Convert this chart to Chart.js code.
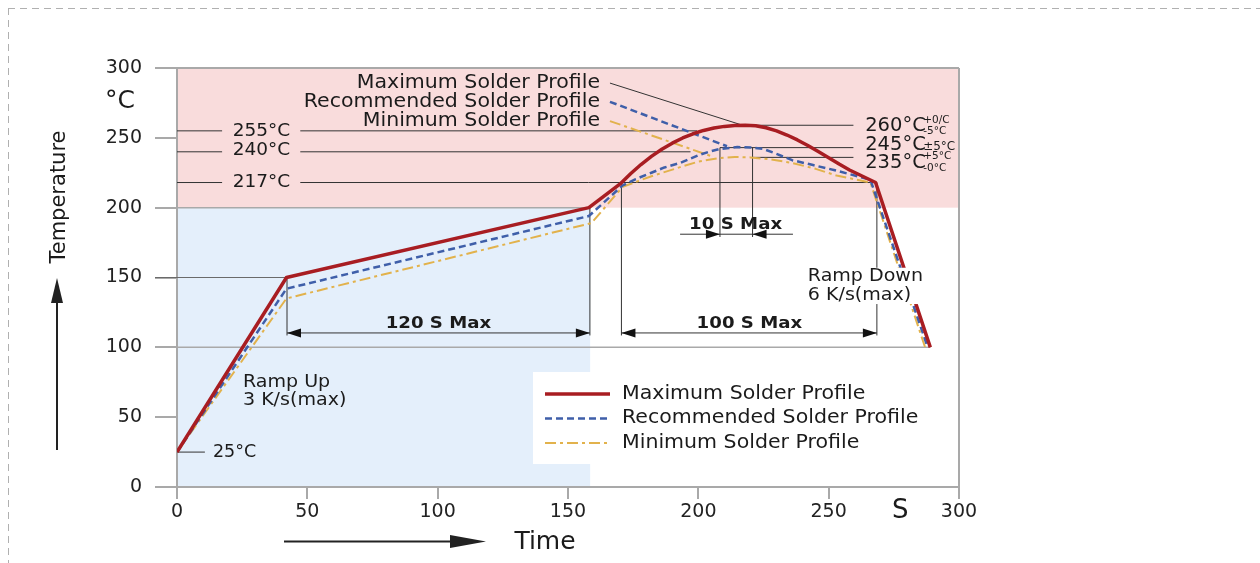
<!DOCTYPE html>
<html>
<head>
<title>Solder Reflow Profile</title>
<script src="https://cdn.jsdelivr.net/npm/chart.js"></script>
<style>
  body { margin: 0; background: #fff; }
  .dash-top { position: absolute; left: 8px; top: 8px; width: 1252px; height: 1px;
    background: repeating-linear-gradient(90deg, #b0b0b0 0 7px, transparent 7px 12px); }
  .dash-left { position: absolute; left: 8px; top: 8px; width: 1px; height: 555px;
    background: repeating-linear-gradient(180deg, #b0b0b0 0 7px, transparent 7px 12px); }
  .wrap { position: absolute; left: 0; top: 0; width: 1260px; height: 563px; }
</style>
</head>
<body>
<div class="dash-top"></div>
<div class="dash-left"></div>
<div class="wrap"><canvas id="reflow" width="1260" height="563"></canvas></div>
<script>
// profile curves (time in s, temperature in °C)
const timeMax = [0, 42, 158, 170, 174, 178, 182, 186, 190, 194, 198, 202, 206, 210, 214, 218,
  222, 226, 230, 234, 238, 242, 246, 250, 254, 258, 263, 268, 289];
const tempMax = [25, 150, 200, 217, 224.3, 230.9, 236.7, 241.8, 246.2, 249.9, 252.9, 255.3, 257, 258.2, 258.8, 259,
  258.6, 257.2, 255, 252, 248.5, 244.5, 240.2, 235.8, 231.2, 227, 222.5, 218, 100];

const timeRec = [0, 42, 158, 171, 176, 182, 187, 193, 200, 204, 208, 215, 221, 225, 230, 236, 244, 252, 266, 288];
const tempRec = [25, 142, 194, 216, 220.5, 225, 228.8, 232, 237.5, 240, 242, 243.4, 243, 242, 238.5, 234, 230.5, 227, 220, 100];

const timeMin = [0, 42, 159, 171, 182, 193, 200, 208, 214, 220, 228, 236, 245, 253, 266, 287];
const tempMin = [25, 135, 189, 215, 222.5, 229, 233, 235.5, 236.3, 236, 234.5, 232, 227.8, 223, 218, 100];

const seriesNames = ['Maximum Solder Profile', 'Recommended Solder Profile', 'Minimum Solder Profile'];
const xTicks = [0, 50, 100, 150, 200, 250, 300];
const yTicks = [0, 50, 100, 150, 200, 250, 300];

const FONT = '"DejaVu Sans", Verdana, sans-serif';
const RED = '#a81d22', BLUE = '#3f5fa9', GOLD = '#e2b24c';
const DASH_REC = [7, 4], DASH_MIN = [11, 4, 3, 4];

function pts(xs, ys) { return xs.map((v, i) => ({ x: v, y: ys[i] })); }

function txt(ctx, s, x, y, size, opts = {}) {
  ctx.save();
  ctx.font = (opts.bold ? 'bold ' : '') + size + 'px ' + FONT;
  ctx.fillStyle = opts.color || '#1b1b1b';
  ctx.textAlign = opts.align || 'left';
  ctx.textBaseline = 'middle';
  if (opts.sx) {
    ctx.translate(x, y);
    ctx.scale(opts.sx, 1);
    ctx.fillText(s, 0, 0);
  } else {
    ctx.fillText(s, x, y);
  }
  ctx.restore();
}

function line(ctx, x1, y1, x2, y2) {
  ctx.beginPath();
  ctx.moveTo(x1, y1);
  ctx.lineTo(x2, y2);
  ctx.stroke();
}

// filled arrow head with its tip at (x, y), dir = +1 right, -1 left
function headH(ctx, x, y, dir, len = 14, w = 4.5) {
  ctx.beginPath();
  ctx.moveTo(x, y);
  ctx.lineTo(x - dir * len, y - w);
  ctx.lineTo(x - dir * len, y + w);
  ctx.closePath();
  ctx.fill();
}

const profilePlugin = {
  id: 'profile',
  beforeDraw(chart) {
    const { ctx, scales: { x, y } } = chart;
    const X = v => x.getPixelForValue(v), Y = v => y.getPixelForValue(v);
    ctx.save();
    ctx.fillStyle = '#f9dcdc';
    ctx.fillRect(X(0), Y(300), X(300) - X(0), Y(200) - Y(300));
    ctx.fillStyle = '#e4effb';
    ctx.fillRect(X(0), Y(200), X(158.5) - X(0), Y(0) - Y(200));
    // legend box
    ctx.fillStyle = '#ffffff';
    ctx.fillRect(533, 372, 420, 92);
    ctx.restore();
  },
  beforeDatasetsDraw(chart) {
    const { ctx, chartArea: a, scales: { x, y } } = chart;
    const X = v => x.getPixelForValue(v), Y = v => y.getPixelForValue(v);
    ctx.save();
    // frame top/right
    ctx.strokeStyle = '#a9a9a9';
    ctx.lineWidth = 2;
    line(ctx, a.left - 22, a.top, a.right, a.top);
    line(ctx, a.right, a.top, a.right, a.bottom);
    // grey zone lines
    ctx.lineWidth = 1.5;
    line(ctx, X(0) - 22, Y(100), X(289), Y(100));
    line(ctx, X(0), Y(200), X(158.5), Y(200));
    ctx.strokeStyle = '#6a6a6a';
    ctx.lineWidth = 1.2;
    line(ctx, X(0) - 22, Y(150), X(42.2), Y(150));

    // temperature marks
    ctx.strokeStyle = '#333';
    ctx.lineWidth = 1;
    const h = (v, x1, x2) => line(ctx, X(x1), Y(v), X(x2), Y(v));
    const vl = (u, y1, y2) => line(ctx, X(u), Y(y1), X(u), Y(y2));
    h(255, 0, 17.3); h(255, 47.3, 199.5);
    h(240, 0, 17.3); h(240, 47.3, 197);
    h(218, 0, 17.3); h(218, 47.3, 268.5);
    h(259, 217, 259.5); h(243, 208.3, 259.5); h(236, 220.8, 259.5);
    h(25, 0, 10.7);
    // time marks
    vl(42.2, 150, 108.5); vl(158.4, 200, 108.5);
    vl(170.5, 217, 108.5); vl(268.5, 218, 108.5);
    vl(208.3, 243, 179); vl(220.8, 243, 179);
    // dimension arrows
    ctx.fillStyle = '#111';
    h(110.3, 42.2, 158.4); headH(ctx, X(42.2), Y(110.3), -1); headH(ctx, X(158.4), Y(110.3), 1);
    h(110.3, 170.5, 268.5); headH(ctx, X(170.5), Y(110.3), -1); headH(ctx, X(268.5), Y(110.3), 1);
    h(181, 193, 236.3); headH(ctx, X(208.3), Y(181), 1); headH(ctx, X(220.8), Y(181), -1);
    // leaders from the labels
    line(ctx, X(166.1), Y(289.2), X(217), Y(259));
    ctx.strokeStyle = BLUE; ctx.lineWidth = 2.5; ctx.setLineDash(DASH_REC);
    line(ctx, X(166.1), Y(275.8), X(211), Y(244));
    ctx.strokeStyle = GOLD; ctx.lineWidth = 2; ctx.setLineDash(DASH_MIN);
    line(ctx, X(166.1), Y(262), X(205.6), Y(236.5));
    ctx.restore();
  },
  afterDraw(chart) {
    const { ctx, chartArea: a, scales: { x, y } } = chart;
    const X = v => x.getPixelForValue(v), Y = v => y.getPixelForValue(v);
    const fs = 18.5;
    ctx.save();
    // ramp down label sits on a white box over the curves
    ctx.fillStyle = '#fff';
    ctx.fillRect(X(241), Y(157), X(290) - X(241), Y(131) - Y(157));
    txt(ctx, 'Ramp Down', X(242), Y(151), fs, { sx: 1.03 });
    txt(ctx, '6 K/s(max)', X(242), Y(137.4), fs, { sx: 1.03 });
    txt(ctx, 'Ramp Up', X(25.3), Y(75), fs, { sx: 1.03 });
    txt(ctx, '3 K/s(max)', X(25.3), Y(62.3), fs, { sx: 1.03 });

    // series labels top
    txt(ctx, seriesNames[0], X(162.3), Y(289.2), 19, { align: 'right', sx: 1.08 });
    txt(ctx, seriesNames[1], X(162.3), Y(275.6), 19, { align: 'right', sx: 1.08 });
    txt(ctx, seriesNames[2], X(162.3), Y(262), 19, { align: 'right', sx: 1.08 });

    // temperature labels
    txt(ctx, '255°C', X(32.4), Y(255), fs, { align: 'center' });
    txt(ctx, '240°C', X(32.4), Y(241), fs, { align: 'center' });
    txt(ctx, '217°C', X(32.4), Y(218.3), fs, { align: 'center' });
    txt(ctx, '25°C', X(13.8), Y(24.6), fs - 1);

    const rx = X(264);
    txt(ctx, '260°C', rx, Y(258.3), fs + 1);
    txt(ctx, '+0/C', rx + 58, Y(262.5), 10.5);
    txt(ctx, '-5°C', rx + 58, Y(254.6), 10.5);
    txt(ctx, '245°C', rx, Y(244.6), fs + 1);
    txt(ctx, '±5°C', rx + 58, Y(243.6), 12);
    txt(ctx, '235°C', rx, Y(232.3), fs + 1);
    txt(ctx, '+5°C', rx + 58, Y(236.5), 10.5);
    txt(ctx, '-0°C', rx + 58, Y(228.5), 10.5);

    // durations
    txt(ctx, '120 S Max', X(100.3), Y(116.7), 16.5, { bold: true, align: 'center', sx: 1.1 });
    txt(ctx, '100 S Max', X(219.6), Y(116.7), 16.5, { bold: true, align: 'center', sx: 1.1 });
    txt(ctx, '10 S Max', X(214.3), Y(187.5), 16.5, { bold: true, align: 'center', sx: 1.1 });

    // legend
    const rows = [[RED, 3.5, []], [BLUE, 2.5, DASH_REC], [GOLD, 2, DASH_MIN]];
    rows.forEach((r, i) => {
      const ly = 394 + i * 24.5;
      ctx.save();
      ctx.strokeStyle = r[0]; ctx.lineWidth = r[1]; ctx.setLineDash(r[2]);
      line(ctx, 545, ly, 610, ly);
      ctx.restore();
      txt(ctx, seriesNames[i], 622, ly, 19, { sx: 1.08 });
    });

    // axis titles and arrows
    txt(ctx, '°C', a.left - 57, 101, 25, { align: 'center' });
    txt(ctx, 'S', X(277.5), 511, 26, { align: 'center' });
    txt(ctx, 'Time', 545, 542, 25, { align: 'center' });
    ctx.save();
    ctx.translate(60, 197);
    ctx.rotate(-Math.PI / 2);
    txt(ctx, 'Temperature', 0, 0, 21, { align: 'center' });
    ctx.restore();
    ctx.strokeStyle = '#222'; ctx.fillStyle = '#222'; ctx.lineWidth = 2;
    line(ctx, 57, 450, 57, 295);
    ctx.beginPath(); ctx.moveTo(57, 278); ctx.lineTo(51, 303); ctx.lineTo(63, 303); ctx.closePath(); ctx.fill();
    line(ctx, 284, 541.5, 465, 541.5);
    ctx.beginPath(); ctx.moveTo(486, 541.5); ctx.lineTo(450, 535); ctx.lineTo(450, 548); ctx.closePath(); ctx.fill();
    ctx.restore();
  }
};

const tickFont = { family: FONT, size: 19 };

new Chart(document.getElementById('reflow'), {
  type: 'line',
  data: {
    datasets: [
      { label: seriesNames[0], data: pts(timeMax, tempMax), borderColor: RED, borderWidth: 3.5 },
      { label: seriesNames[1], data: pts(timeRec, tempRec), borderColor: BLUE, borderWidth: 2.5, borderDash: DASH_REC },
      { label: seriesNames[2], data: pts(timeMin, tempMin), borderColor: GOLD, borderWidth: 2, borderDash: DASH_MIN }
    ]
  },
  options: {
    responsive: false,
    animation: false,
    layout: { padding: { left: 0, top: 68, right: 301, bottom: 0 } },
    elements: { point: { radius: 0 }, line: { tension: 0, fill: false, borderJoinStyle: 'round' } },
    plugins: { legend: { display: false }, tooltip: { enabled: false } },
    scales: {
      x: {
        type: 'linear', min: 0, max: 300,
        afterBuildTicks: s => { s.ticks = xTicks.map(v => ({ value: v })); },
        afterFit: s => { s.height = 76; },
        ticks: { font: tickFont, color: '#222', padding: 2 },
        grid: { drawOnChartArea: false, tickLength: 12, color: '#a9a9a9', lineWidth: 2 },
        border: { color: '#a9a9a9', width: 2 }
      },
      y: {
        type: 'linear', min: 0, max: 300,
        afterBuildTicks: s => { s.ticks = yTicks.map(v => ({ value: v })); },
        afterFit: s => { s.width = 177; },
        ticks: { font: tickFont, color: '#222', padding: 13 },
        grid: { drawOnChartArea: false, tickLength: 22, color: '#a9a9a9', lineWidth: 2 },
        border: { color: '#a9a9a9', width: 2 }
      }
    }
  },
  plugins: [profilePlugin]
});
</script>
</body>
</html>
